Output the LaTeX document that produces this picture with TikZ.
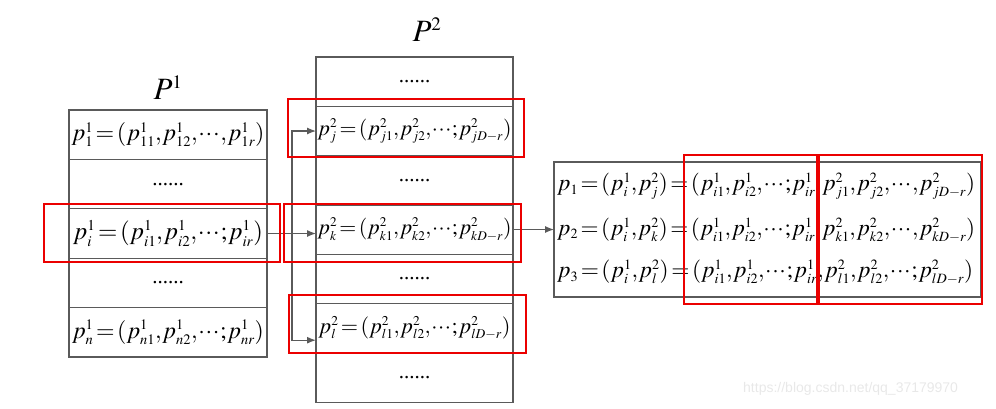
\documentclass[tikz,border=0pt]{standalone}
\usepackage{mathptmx}
\usepackage[no-math]{fontspec}
\setmainfont{Liberation Serif}
\newfontfamily\wmfont{Liberation Sans}
\usetikzlibrary{arrows.meta}
\DeclareMathSizes{28}{28}{17}{13}
\DeclareMathSizes{31}{31}{19}{14}
\definecolor{boxgray}{RGB}{90,90,90}
\definecolor{hired}{RGB}{235,0,0}
\definecolor{wmgray}{RGB}{232,232,232}
\newcommand{\fitw}[2]{\resizebox{#1}{!}{\thickmuskip=2mu\medmuskip=1mu\thinmuskip=0.5mu$#2$}}
\begin{document}
\begin{tikzpicture}[x=1pt,y=-1pt,
  cellstyle/.style={draw=boxgray, line width=1.2pt, minimum width=198pt, inner sep=0pt,
    minimum height=49.4pt, outer sep=0pt, font=\fontsize{28}{30}\selectfont},
  cellb/.style={cellstyle, minimum width=197pt},
  dotsty/.style={font=\fontsize{21}{24}\selectfont},
  hibox/.style={draw=hired, line width=1.8pt},
  conn/.style={draw=boxgray, line width=1.2pt},
  arr/.style={conn, -{Latex[length=9pt,width=7pt]}},
  rowtxt/.style={inner sep=0pt, anchor=west, font=\fontsize{28}{30}\selectfont},
  title/.style={inner sep=0pt, font=\fontsize{31}{34}\selectfont}]
\useasboundingbox (0,0) rectangle (996,408);
% P1 column
\node[title] (t1) at (168,88) {$P^1$};
\node[cellstyle] (a1) at (168,134.7) {\fitw{193pt}{p_1^1=(p_{11}^1,p_{12}^1,\cdots,p_{1r}^1)}};
\node[cellstyle, dotsty] (a2) at (168,184.1) {......};
\node[cellstyle] (a3) at (168,233.5) {\fitw{190pt}{p_i^1=(p_{i1}^1,p_{i2}^1,\cdots;p_{ir}^1)}};
\node[cellstyle, dotsty] (a4) at (168,282.9) {......};
\node[cellstyle] (a5) at (168,332.3) {\fitw{192pt}{p_n^1=(p_{n1}^1,p_{n2}^1,\cdots;p_{nr}^1)}};
% P2 column
\node[title] (t2) at (427,30) {$P^2$};
\node[cellb, dotsty] (b1) at (414.5,81.6) {......};
\node[cellb] (b2) at (414.5,131) {\fitw{194pt}{p_j^2=(p_{j1}^2,p_{j2}^2,\cdots;p_{jD-r}^2)}};
\node[cellb, dotsty] (b3) at (414.5,180.3) {......};
\node[cellb] (b4) at (414.5,229.6) {\fitw{194pt}{p_k^2=(p_{k1}^2,p_{k2}^2,\cdots;p_{kD-r}^2)}};
\node[cellb, dotsty] (b5) at (414.5,278.9) {......};
\node[cellb] (b6) at (414.5,328.2) {\fitw{192pt}{p_l^2=(p_{l1}^2,p_{l2}^2,\cdots;p_{lD-r}^2)}};
\node[cellb, dotsty] (b7) at (414.5,377.5) {......};
% result box
\node[draw=boxgray, line width=1.2pt, minimum width=427pt, minimum height=135pt, inner sep=0pt, outer sep=0pt] (rb) at (767.5,229.5) {};
\node[rowtxt] (r1) at (557,186) {\fitw{418pt}{p_1=(p_i^1,p_j^2)=(p_{i1}^1,p_{i2}^1,\cdots;p_{ir}^1,p_{j1}^2,p_{j2}^2,\cdots,p_{jD-r}^2)}};
\node[rowtxt] (r2) at (557,230) {\fitw{418pt}{p_2=(p_i^1,p_k^2)=(p_{i1}^1,p_{i2}^1,\cdots;p_{ir}^1,p_{k1}^2,p_{k2}^2,\cdots,p_{kD-r}^2)}};
\node[rowtxt] (r3) at (557,272) {\fitw{416pt}{p_3=(p_i^1,p_l^2)=(p_{i1}^1,p_{i2}^1,\cdots;p_{ir}^1,p_{l1}^2,p_{l2}^2,\cdots;p_{lD-r}^2)}};
% connectors
\coordinate (sp) at (292,233.5);
\draw[arr] (a3.east) -- (a3.east -| b4.west);
\draw[arr] (sp) |- (b2.west);
\draw[arr] (sp) |- ([yshift=-12pt]b6.west);
\draw[arr] (b4.east |- rb.west) -- (rb.west);
% highlight boxes
\draw[hibox] (44,204) rectangle (280,262);
\draw[hibox] (288,99) rectangle (524,157);
\draw[hibox] (284,204) rectangle (521,262);
\draw[hibox] (289,295) rectangle (526,353);
\draw[hibox] (684,155) rectangle (817,304);
\draw[hibox] (819,155) rectangle (982,304);
% watermark
\node[inner sep=0pt, anchor=west, text=wmgray, font=\wmfont\fontsize{14}{16}\selectfont] (wm) at (743,389) {https://blog.csdn.net/qq\_37179970};
\end{tikzpicture}
\end{document}
